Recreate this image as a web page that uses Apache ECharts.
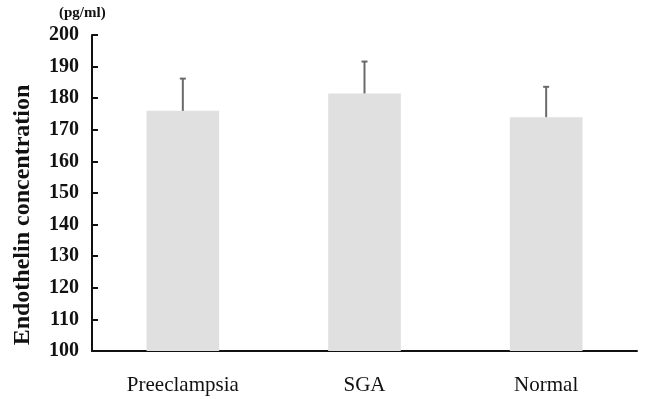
<!DOCTYPE html>
<html>
<head>
<meta charset="utf-8">
<script src="https://cdn.jsdelivr.net/npm/echarts@6/dist/echarts.min.js"></script>
<style>html,body{margin:0;padding:0;background:#fff}#c{width:647px;height:399px}</style>
</head>
<body>
<div id="c"></div>
<script>
var categories = ['Preeclampsia', 'SGA', 'Normal'];
var meanValues = [176, 181.5, 174];
var errorUpper = [186.2, 191.6, 183.6];
var yTicks = [100, 110, 120, 130, 140, 150, 160, 170, 180, 190, 200];
var yAxisTitle = 'Endothelin concentration';
var unitLabel = '(pg/ml)';

var chart = echarts.init(document.getElementById('c'));
var font = '"Liberation Serif", "Times New Roman", serif';
chart.setOption({
  animation: false,
  grid: { left: 92, right: 10, top: 35, bottom: 48 },
  graphic: [{
    type: 'text', left: 59, top: 6,
    style: { text: unitLabel, font: 'bold 15px ' + font, fill: '#111' }
  }, {
    type: 'text', x: 23, y: 215, rotation: Math.PI / 2,
    style: { text: yAxisTitle, font: 'bold 24px ' + font, fill: '#111', align: 'center', verticalAlign: 'middle' }
  }],
  xAxis: {
    type: 'category', data: categories,
    axisLine: { lineStyle: { color: '#111', width: 2 } },
    axisTick: { inside: true, length: 5, lineStyle: { color: '#111', width: 2 } },
    axisLabel: { color: '#111', fontFamily: font, fontSize: 21, margin: 24 }
  },
  yAxis: {
    type: 'value', min: yTicks[0], max: yTicks[yTicks.length - 1], interval: 10,
    splitLine: { show: false },
    axisLine: { show: true, lineStyle: { color: '#111', width: 2 } },
    axisTick: { show: true, inside: true, length: 6, lineStyle: { color: '#111', width: 2 } },
    axisLabel: { color: '#111', fontFamily: font, fontSize: 20, fontWeight: 'bold', margin: 13 }
  },
  series: [{
    type: 'bar', data: meanValues, barWidth: '40%',
    itemStyle: { color: '#e0e0e0' }
  }, {
    type: 'custom',
    data: errorUpper.map(function (v, i) { return [i, meanValues[i], v]; }),
    renderItem: function (params, api) {
      var base = api.coord([api.value(0), api.value(1)]);
      var top = api.coord([api.value(0), api.value(2)]);
      var st = { stroke: '#6a6a6a', lineWidth: 2 };
      return {
        type: 'group', children: [
          { type: 'line', shape: { x1: base[0], y1: base[1], x2: top[0], y2: top[1] }, style: st },
          { type: 'line', shape: { x1: top[0] - 3, y1: top[1], x2: top[0] + 3, y2: top[1] }, style: st }
        ]
      };
    },
    z: 3
  }]
});
</script>
</body>
</html>
